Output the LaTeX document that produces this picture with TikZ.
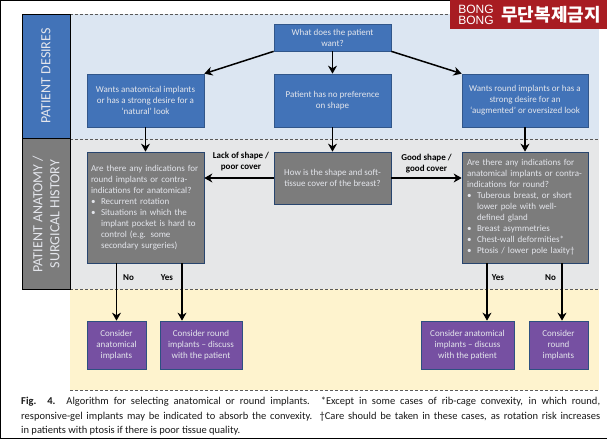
\documentclass[tikz,border=0pt]{standalone}
\usepackage{fontspec}
\setmainfont{Carlito}
\newfontfamily\krfont{Noto Sans CJK KR}
\newfontfamily\stampfont{Liberation Sans}
\usetikzlibrary{arrows.meta}
\definecolor{bandblue}{HTML}{DCE6F2}
\definecolor{bandgray}{HTML}{E6E7E8}
\definecolor{bandyellow}{HTML}{FEF3CE}
\definecolor{boxblue}{HTML}{4273B8}
\definecolor{boxgray}{HTML}{7C7C7C}
\definecolor{boxpurple}{HTML}{7650A2}
\definecolor{boxtext}{HTML}{E4E6EC}
\definecolor{stampred}{HTML}{A81C22}
\newcommand{\itm}[1]{\makebox[10pt][l]{\textbullet}#1}
\newcommand{\cnt}[1]{\hspace*{10pt}#1}
\tikzset{
  base/.style={draw,line width=.7pt,text=boxtext,inner sep=0pt,font=\fontsize{9}{11}\selectfont},
  bluebox/.style={base,fill=boxblue,draw=boxblue!75!black,align=center},
  graybox/.style={base,fill=boxgray,draw=boxblue!60!black,align=center},
  listbox/.style={base,fill=boxgray,draw=boxblue!60!black,align=left},
  purplebox/.style={base,fill=boxpurple,draw=boxblue!70!black,align=center},
  sidebox/.style={draw=black,line width=1pt,inner sep=0pt},
  sidetext/.style={text=boxtext,rotate=90,align=center,font=\fontsize{14}{17}\selectfont},
  tag/.style={font=\bfseries\fontsize{9}{11}\selectfont,align=center,text=black},
  sep/.style={densely dashed,line width=.7pt,black!65},
  go/.style={-{Stealth[length=8pt,width=9pt]},line width=1.5pt,black}
}
\begin{document}
\begin{tikzpicture}[x=1pt,y=-1pt]
  \useasboundingbox (0,0) rectangle (607,439);
  \fill[white] (0,0) rectangle (607,439);
  \draw[line width=1pt] (.5,439) -- (.5,.5) -- (607,.5);
  \draw[line width=1pt] (0,438.5) -- (607,438.5);

  % bands
  \fill[bandblue] (70,14) rectangle (599,139);
  \fill[bandgray] (70,139) rectangle (599,289);
  \fill[bandyellow] (70,289) rectangle (599,390);
  \coordinate (s1a) at (70,14);   \coordinate (s1b) at (599,14);
  \coordinate (s2a) at (70,139);  \coordinate (s2b) at (599,139);
  \coordinate (s3a) at (70,289);  \coordinate (s3b) at (599,289);
  \coordinate (s4a) at (70,390);  \coordinate (s4b) at (599,390);
  \foreach \from/\to in {s1a/s1b, s2a/s2b, s3a/s3b, s4a/s4b}
    \draw[sep] (\from) -- (\to);

  % side labels
  \node[sidebox,fill=boxblue,minimum width=48pt,minimum height=124.5pt] (desires) at (46,76.25) {};
  \node[sidebox,fill=boxgray,minimum width=48pt,minimum height=150.5pt] (history) at (46,213.75) {};
  \node[sidetext] (desirestxt) at (46,76) {PATIENT DESIRES};
  \node[sidetext] (historytxt) at (46,214) {PATIENT ANATOMY /\\SURGICAL HISTORY};

  % top row
  \node[bluebox,minimum width=117pt,minimum height=27pt] (what) at (332.5,37.5) {What does the patient\\want?};
  \node[bluebox,minimum width=117pt,minimum height=53pt] (wantanat) at (145.5,100.5) {Wants anatomical implants\\or has a strong desire for a\\‘natural’ look};
  \node[bluebox,minimum width=117pt,minimum height=53pt] (nopref) at (332.5,100.5) {Patient has no preference\\on shape};
  \node[bluebox,minimum width=126pt,minimum height=53pt] (wantround) at (525,100.5) {Wants round implants or has a\\strong desire for an\\‘augmented’ or oversized look};

  % middle row
  \node[listbox,minimum width=117pt,minimum height=111pt,text width=109pt,inner xsep=4pt] (askanat) at (145.5,207.5) {Are there any indications for\\round implants or contra-\\indications for anatomical?\\\itm{Recurrent rotation}\\\itm{Situations in which the}\\\cnt{implant pocket is hard to}\\\cnt{control (e.g. some}\\\cnt{secondary surgeries)}};
  \node[graybox,minimum width=117pt,minimum height=52pt] (how) at (332.5,178) {How is the shape and soft-\\tissue cover of the breast?};
  \node[listbox,minimum width=126pt,minimum height=111pt,text width=116pt,inner xsep=5pt] (askround) at (525,207.5) {Are there any  indications for\\anatomical implants or contra-\\indications for round?\\\itm{Tuberous breast, or short}\\\cnt{lower pole with well-}\\\cnt{defined gland}\\\itm{Breast asymmetries}\\\itm{Chest-wall deformities*}\\\itm{Ptosis / lower pole laxity†}};

  % bottom row
  \node[purplebox,minimum width=59pt,minimum height=48pt] (consanat) at (116.5,345) {Consider\\anatomical\\implants};
  \node[purplebox,minimum width=82pt,minimum height=48pt] (consround) at (201,345) {Consider  round\\implants – discuss\\with the patient};
  \node[purplebox,minimum width=93pt,minimum height=48pt] (consanat2) at (467.5,345) {Consider anatomical\\implants – discuss\\with the patient};
  \node[purplebox,minimum width=59pt,minimum height=48pt] (consround2) at (558.5,345) {Consider\\round\\implants};

  % arrows
  \foreach \from/\to in
  {what.south west/wantanat.north east, what.south/nopref.north, what.south east/wantround.north west,
   wantanat.south/askanat.north, nopref.south/how.north, wantround.south/askround.north}
    \draw[go] (\from) -- (\to);
  \draw[go] (how.west) -- (how.west -| askanat.east);
  \draw[go] (how.east) -- (how.east -| askround.west);
  \draw[go] (consanat.north |- askanat.south) -- (consanat.north);
  \draw[go] ([xshift=-19pt]consround.north |- askanat.south) -- ([xshift=-19pt]consround.north);
  \draw[go] ([xshift=19.5pt]consanat2.north |- askround.south) -- ([xshift=19.5pt]consanat2.north);
  \draw[go] ([xshift=3.5pt]consround2.north |- askround.south) -- ([xshift=3.5pt]consround2.north);

  % arrow labels
  \node[tag] (lack) at (241,162) {Lack of shape /\\poor cover};
  \node[tag] (good) at (426.5,164) {Good shape /\\good cover};
  \node[tag] (no1) at (128.5,278) {No};
  \node[tag] (yes1) at (167,278) {Yes};
  \node[tag] (yes2) at (498,278) {Yes};
  \node[tag] (no2) at (550.5,278) {No};

  % caption
  \node[anchor=north west,inner sep=0pt,text width=579pt,align=justify,text=black!90,font=\fontsize{10.5}{14.5}\selectfont] (caption) at (21,397)
    {\textbf{Fig. 4.} Algorithm for selecting anatomical or round implants. *Except in some cases of rib-cage convexity, in which round,\linebreak responsive-gel implants may be indicated to absorb the convexity. †Care should be taken in these cases, as rotation risk increases\linebreak in patients with ptosis if there is poor tissue quality.};

  % stamp
  \fill[stampred] (450,0) rectangle (607,29);
  \node[text=white,align=left,inner sep=0pt,font=\stampfont\fontsize{12}{11.5}\selectfont] (bong) at (476,15) {BONG\\BONG};
  \node[text=white,inner sep=0pt,font=\krfont\bfseries\fontsize{18}{18}\selectfont] (stamp) at (551,15) {무단복제금지};
\end{tikzpicture}
\end{document}
